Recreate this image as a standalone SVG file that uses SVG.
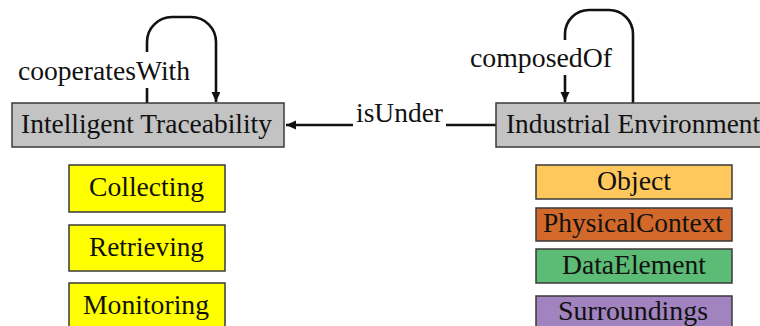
<svg xmlns="http://www.w3.org/2000/svg" width="760" height="326" viewBox="0 0 760 326">
  <style>
    text { font-family: "Liberation Serif", "Times New Roman", serif; font-size: 27px; fill: #111; }
    .box { stroke: #3a3a3a; stroke-width: 1.5; }
    .main { fill: #c3c3c3; }
    .task { fill: #ffff00; }
    .edge { fill: none; stroke: #111; stroke-width: 2.6; }
    .lblbg { fill: #ffffff; }
  </style>
  <defs>
    <marker id="arrow" markerUnits="userSpaceOnUse" markerWidth="12" markerHeight="10" refX="10" refY="4.5" orient="auto">
      <path d="M0,0 L10,4.5 L0,9 Z" fill="#111"/>
    </marker>
  </defs>

  <!-- relations -->
  <g id="connectors">
    <!-- cooperatesWith self loop -->
    <path class="edge" d="M147,103 V42 A25,25 0 0 1 172,17 H191 A25,25 0 0 1 216,42 V102" marker-end="url(#arrow)"/>
    <rect class="lblbg" x="16" y="52" width="176" height="36"/>
    <text x="18" y="80" textLength="172" lengthAdjust="spacingAndGlyphs">cooperatesWith</text>

    <!-- composedOf self loop -->
    <path class="edge" d="M633,103 V34 A24,24 0 0 0 609,10 H589 A24,24 0 0 0 565,34 V102" marker-end="url(#arrow)"/>
    <rect class="lblbg" x="467" y="40" width="148" height="35"/>
    <text x="470" y="67" textLength="142" lengthAdjust="spacingAndGlyphs">composedOf</text>

    <!-- isUnder -->
    <path class="edge" d="M496,125 H286" marker-end="url(#arrow)"/>
    <rect class="lblbg" x="353" y="100" width="93" height="27"/>
    <text x="356" y="122" textLength="87" lengthAdjust="spacingAndGlyphs">isUnder</text>
  </g>

  <!-- main concepts -->
  <g id="intelligent-traceability">
    <rect class="box main" x="12" y="103" width="272" height="44"/>
    <text x="21" y="133" textLength="251" lengthAdjust="spacingAndGlyphs">Intelligent Traceability</text>
  </g>
  <g id="industrial-environment">
    <rect class="box main" x="496" y="103" width="280" height="44"/>
    <text x="506" y="133" textLength="254" lengthAdjust="spacingAndGlyphs">Industrial Environment</text>
  </g>

  <!-- traceability activities -->
  <g id="collecting">
    <rect class="box task" x="69" y="165" width="156" height="47"/>
    <text x="89" y="196" textLength="115" lengthAdjust="spacingAndGlyphs">Collecting</text>
  </g>
  <g id="retrieving">
    <rect class="box task" x="69" y="225" width="156" height="46"/>
    <text x="89" y="256" textLength="115" lengthAdjust="spacingAndGlyphs">Retrieving</text>
  </g>
  <g id="monitoring">
    <rect class="box task" x="69" y="283" width="156" height="47"/>
    <text x="83" y="314" textLength="126" lengthAdjust="spacingAndGlyphs">Monitoring</text>
  </g>

  <!-- environment parts -->
  <g id="object">
    <rect class="box" x="536" y="165" width="196" height="34" fill="#ffc85c"/>
    <text x="597" y="190" textLength="74" lengthAdjust="spacingAndGlyphs">Object</text>
  </g>
  <g id="physical-context">
    <rect class="box" x="536" y="208" width="196" height="33" fill="#d2692a"/>
    <text x="543" y="232" textLength="180" lengthAdjust="spacingAndGlyphs">PhysicalContext</text>
  </g>
  <g id="data-element">
    <rect class="box" x="536" y="249" width="196" height="34" fill="#5cbb74"/>
    <text x="562" y="274" textLength="144" lengthAdjust="spacingAndGlyphs">DataElement</text>
  </g>
  <g id="surroundings">
    <rect class="box" x="536" y="296" width="196" height="40" fill="#a083bf"/>
    <text x="558" y="320" textLength="150" lengthAdjust="spacingAndGlyphs">Surroundings</text>
  </g>
</svg>
